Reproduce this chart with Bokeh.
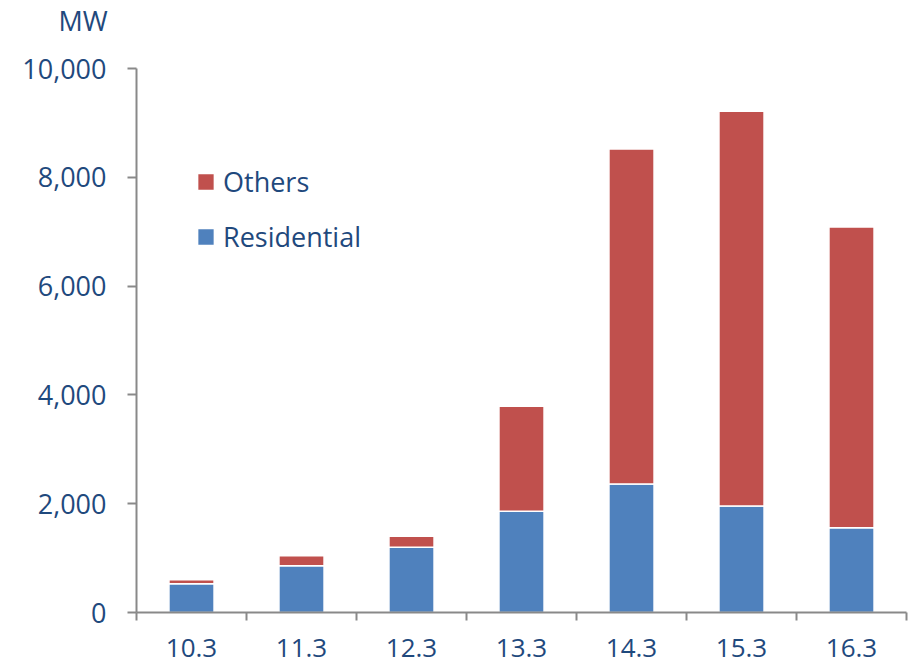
from bokeh.plotting import figure
from bokeh.models import (Range1d, FixedTicker, Legend, LegendItem, Title,
                          NumeralTickFormatter, ColumnDataSource)
from bokeh.embed import file_html
from bokeh.resources import INLINE

periods = ["10.3", "11.3", "12.3", "13.3", "14.3", "15.3", "16.3"]
residential = [530, 860, 1200, 1860, 2360, 1960, 1560]
others = [70, 185, 200, 1930, 6160, 7255, 5525]
y_ticks = [0, 2000, 4000, 6000, 8000, 10000]

BLUE = "#4F81BD"
RED = "#C0504D"
TEXT = "#1F497D"
AXIS = "#898989"
FONT = "Open Sans"
FSIZE = "27px"

xpos = [i + 0.5 for i in range(len(periods))]
source = ColumnDataSource(dict(x=xpos, Residential=residential, Others=others))

p = figure(frame_width=770, frame_height=544,
           x_range=Range1d(0, len(periods)), y_range=Range1d(0, 10000),
           output_backend="svg", toolbar_location=None,
           min_border_left=136, min_border_top=68, min_border_bottom=52,
           min_border_right=5)

rs = p.vbar_stack(["Residential", "Others"], x="x", width=0.41, source=source,
                  fill_color=[BLUE, RED], line_color="white", line_width=1.5)

p.grid.visible = False
p.outline_line_color = None

# spacer between the frame and the unit title
p.add_layout(Title(text=" ", text_font_size="10px", standoff=15), "above")

# unit title
p.title.text = "MW"
p.title.align = "left"
p.title.offset = -78
p.title.standoff = 0
p.title.vertical_align = "top"
p.title.text_font = FONT
p.title.text_font_size = FSIZE
p.title.text_font_style = "normal"
p.title.text_color = TEXT

# x axis
xa = p.xaxis[0]
xa.ticker = FixedTicker(ticks=xpos, minor_ticks=list(range(len(periods) + 1)))
xa.major_label_overrides = {x: lab for x, lab in zip(xpos, periods)}
xa.major_tick_out = 0
xa.major_tick_in = 0
xa.minor_tick_out = 8
xa.minor_tick_in = 0
xa.minor_tick_line_color = AXIS
xa.minor_tick_line_width = 2
xa.axis_line_color = AXIS
xa.axis_line_width = 2
xa.major_label_standoff = 18
xa.major_label_text_font = FONT
xa.major_label_text_font_size = "26px"
xa.major_label_text_color = TEXT

# y axis
ya = p.yaxis[0]
ya.ticker = FixedTicker(ticks=y_ticks, minor_ticks=[])
ya.formatter = NumeralTickFormatter(format="0,0")
ya.major_tick_out = 9
ya.major_tick_in = 0
ya.minor_tick_out = 0
ya.minor_tick_in = 0
ya.major_tick_line_color = AXIS
ya.major_tick_line_width = 2
ya.axis_line_color = AXIS
ya.axis_line_width = 2
ya.major_label_standoff = 21
ya.major_label_text_font = FONT
ya.major_label_text_font_size = FSIZE
ya.major_label_text_color = TEXT

legend = Legend(items=[LegendItem(label="Others", renderers=[rs[1]]),
                       LegendItem(label="Residential", renderers=[rs[0]])],
                location=(59, 357), padding=0, margin=0, spacing=18,
                glyph_width=21, glyph_height=21, label_height=26,
                label_standoff=7, border_line_color=None,
                background_fill_alpha=0,
                label_text_font=FONT, label_text_font_size=FSIZE,
                label_text_color=TEXT)
p.add_layout(legend, "center")

open("out.html", "w").write(file_html(p, INLINE))
